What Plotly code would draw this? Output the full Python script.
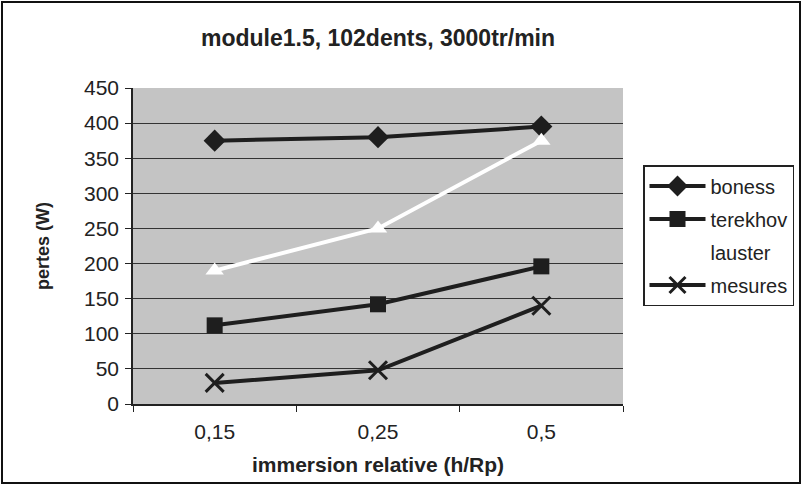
import plotly.graph_objects as go

categories = ["0,15", "0,25", "0,5"]
boness = [375, 380, 395]
terekhov = [112, 142, 196]
lauster = [190, 250, 375]
mesures = [30, 48, 140]
y_ticks = [0, 50, 100, 150, 200, 250, 300, 350, 400, 450]

W, H = 803, 486
L, R, T, B = 133, 180, 88, 82
pw, ph = W - L - R, H - T - B

fig = go.Figure()
dark = "#1e1e1e"
fig.add_trace(go.Scatter(x=categories, y=boness, name="boness", mode="lines+markers",
                         legendgroup="g1",
                         line=dict(color=dark, width=4),
                         marker=dict(symbol="diamond", size=17, color=dark)))
fig.add_trace(go.Scatter(x=categories, y=terekhov, name="terekhov", mode="lines+markers",
                         legendgroup="g2",
                         line=dict(color=dark, width=4),
                         marker=dict(symbol="square", size=16, color=dark)))
fig.add_trace(go.Scatter(x=categories, y=lauster, name="lauster", mode="lines+markers",
                         legendgroup="g3",
                         line=dict(color="white", width=4),
                         marker=dict(symbol="triangle-up", size=16, color="white")))
fig.add_trace(go.Scatter(x=categories, y=mesures, name="mesures", mode="lines+markers",
                         legendgroup="g4",
                         line=dict(color=dark, width=4),
                         marker=dict(symbol="x-thin", size=18, color=dark,
                                     line=dict(color=dark, width=3))))

font = "Liberation Sans, Arial, sans-serif"
fig.update_layout(
    width=W, height=H,
    margin=dict(l=L, r=R, t=T, b=B, autoexpand=False),
    paper_bgcolor="white",
    plot_bgcolor="#c4c4c4",
    font=dict(family=font, color="#222", size=20),
    title=dict(text="<b>module1.5, 102dents, 3000tr/min</b>", x=(L + pw / 2) / W,
               xanchor="center", y=1 - 38 / H, yanchor="middle",
               font=dict(size=23, color="#222")),
    showlegend=True,
    legend=dict(x=(643 - L) / pw, xanchor="left", y=1 - (165 - T) / ph, yanchor="top",
                bordercolor="#222", borderwidth=1.5, bgcolor="white",
                font=dict(size=20, color="#222"), tracegroupgap=4, itemwidth=56,
                traceorder="grouped"),
    xaxis=dict(type="category", tickson="boundaries", ticks="outside", ticklen=6,
               tickcolor="#222", showline=True, linecolor="#222", linewidth=1.5,
               showgrid=False, range=[-0.5, 2.5], ticklabelstandoff=8,
               title=dict(text="<b>immersion relative (h/Rp)</b>", font=dict(size=21),
                          standoff=15),
               tickfont=dict(size=21)),
    yaxis=dict(range=[0, 450], tickvals=y_ticks, ticks="outside", ticklen=6,
               tickcolor="#222", showline=True, linecolor="#222", linewidth=1.5,
               showgrid=True, gridcolor="#333", gridwidth=1, zeroline=False,
               ticklabelstandoff=2,
               title=dict(text="<b>pertes (W)</b>", font=dict(size=18), standoff=30),
               tickfont=dict(size=21)),
)

fig.add_shape(type="rect", xref="paper", yref="paper",
              x0=(2 - L) / pw, x1=(800 - L) / pw,
              y0=(H - B - 483) / ph, y1=(H - B - 2) / ph,
              line=dict(color="#111", width=2), layer="below")

fig.write_html("out.html", config={"displayModeBar": False},
               post_script="document.body.style.margin='0';")
